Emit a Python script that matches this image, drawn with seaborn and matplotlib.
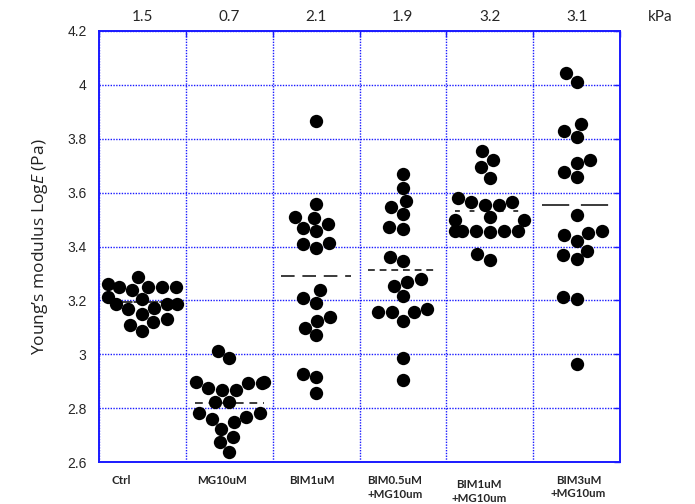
import numpy as np
import pandas as pd
import matplotlib
matplotlib.use("Agg")
import matplotlib.pyplot as plt
from matplotlib.transforms import ScaledTranslation, blended_transform_factory
import seaborn as sns

# ---- data: log10 Young's modulus (Pa) per condition ----
groups = ["Ctrl", "MG10uM", "BIM1uM", "BIM0.5uM\n+MG10um", "BIM1uM\n+MG10um", "BIM3uM\n+MG10um"]

ctrl = [3.205, 3.251, 3.288, 3.251, 3.261, 3.239, 3.251, 3.251, 3.187, 3.173,
        3.211, 3.167, 3.187, 3.187, 3.150, 3.130, 3.109, 3.088, 3.121]
mg10 = [2.985, 3.013, 2.898, 2.867, 2.894, 2.894, 2.898, 2.867, 2.874, 2.824,
        2.824, 2.781, 2.747, 2.759, 2.768, 2.723, 2.781, 2.673, 2.694, 2.636]
bim1 = [3.865, 3.559, 3.511, 3.507, 3.484, 3.470, 3.458, 3.414, 3.409, 3.393,
        3.237, 3.210, 3.189, 3.125, 3.140, 3.099, 3.070, 2.927, 2.915, 2.855]
bim05_mg = [3.668, 3.618, 3.570, 3.548, 3.522, 3.464, 3.474, 3.362, 3.345, 3.279,
            3.268, 3.255, 3.217, 3.157, 3.157, 3.157, 3.168, 3.125, 2.985, 2.905]
bim1_mg = [3.753, 3.721, 3.694, 3.655, 3.554, 3.567, 3.555, 3.566, 3.581, 3.498,
           3.497, 3.508, 3.458, 3.458, 3.454, 3.458, 3.458, 3.458, 3.372, 3.350]
bim3_mg = [4.045, 4.012, 3.829, 3.808, 3.855, 3.721, 3.711, 3.678, 3.657, 3.517,
           3.449, 3.422, 3.443, 3.458, 3.384, 3.353, 3.367, 3.214, 3.205, 2.964]

# stiffness summary printed above each column (kPa)
kpa_labels = ["1.5", "0.7", "2.1", "1.9", "3.2", "3.1"]

y_ticks = [2.6, 2.8, 3.0, 3.2, 3.4, 3.6, 3.8, 4.0, 4.2]

series = [ctrl, mg10, bim1, bim05_mg, bim1_mg, bim3_mg]
df = pd.DataFrame({
    "group": np.repeat(groups, [len(s) for s in series]),
    "logE": np.concatenate(series),
})
df["group"] = pd.Categorical(df["group"], categories=groups, ordered=True)

# ---- style ----
sns.set_style("white")
plt.rcParams["font.family"] = ["Liberation Sans", "DejaVu Sans"]
plt.rcParams["mathtext.fontset"] = "custom"
plt.rcParams["mathtext.rm"] = "Open Sans"
plt.rcParams["mathtext.it"] = "Open Sans:italic"

BLUE = "#1a1aff"

fig = plt.figure(figsize=(6.95, 5.04), dpi=100)
ax = fig.add_axes([99 / 695, 1 - 462 / 504, 521 / 695, 431 / 504])

sns.swarmplot(data=df, x="group", y="logE", order=groups, color="black",
              size=9.6, linewidth=0, ax=ax, zorder=3, warn_thresh=1.0)

# group means as dashed bars
dash_styles = [(0, (6, 0.6)), (0, (4, 3)), (0, (7, 4)), (0, (3.5, 2.5)),
               (0, (2.5, 5)), (0, (14, 6))]
for i, vals in enumerate(series):
    m = float(np.mean(vals))
    ax.plot([i - 0.40, i + 0.40], [m, m], color="#3a3a3a", lw=1.4,
            linestyle=dash_styles[i], zorder=2)

# axes limits / ticks
ax.set_xlim(-0.5, len(groups) - 0.5)
ax.set_ylim(2.6, 4.2)
ax.set_yticks(y_ticks)
ax.set_yticklabels([f"{t:g}" for t in y_ticks], fontsize=10)
ax.set_xticks(np.arange(-0.5, len(groups), 1.0))
ax.set_xticklabels([])
ax.set_xticks(range(len(groups)), minor=True)
ax.set_xticklabels(groups, minor=True, fontsize=8.3, fontweight="bold",
                   family=["Lato", "DejaVu Sans"], linespacing=1.25)
ax.tick_params(axis="x", which="minor", length=0, pad=9)
ax.tick_params(axis="both", which="major", direction="in", length=4,
               width=1, color=BLUE, top=True, right=True)
ax.tick_params(axis="y", which="major", pad=9)
ax.set_xlabel("")

# individual nudges of the condition labels
label_shift = [(-21, 0), (-7, 0), (-4, 0), (-8, -1), (-11, -5), (2, 0)]
for lab, (dx, dy) in zip(ax.get_xticklabels(minor=True), label_shift):
    lab.set_transform(lab.get_transform() +
                      ScaledTranslation(dx / 100, dy / 100, fig.dpi_scale_trans))
    lab.set_verticalalignment("top")

# grid
ax.grid(True, which="major", color=BLUE, linestyle=(0, (1, 1)), linewidth=1)
ax.set_axisbelow(True)
for s in ax.spines.values():
    s.set_color(BLUE)
    s.set_linewidth(1.4)
    s.set_visible(True)

ax.set_ylabel("Young\u2019s modulus Log$\\it{E}$ (Pa)", fontsize=12.5,
              family=["Open Sans", "DejaVu Sans"], labelpad=12, color="#222222")

# kPa summary above each column
top = blended_transform_factory(ax.transData, ax.transAxes)
for i, t in enumerate(kpa_labels):
    ax.text(i, 1.0 + 14 / 431, t, transform=top, ha="center", va="center",
            fontsize=11, family=["Lato", "DejaVu Sans"])
ax.text((660 - 99) / 521, 1.0 + 14 / 431, "kPa", transform=ax.transAxes,
        ha="center", va="center", fontsize=11, family=["Lato", "DejaVu Sans"])

fig.savefig("out.png", dpi=100)
